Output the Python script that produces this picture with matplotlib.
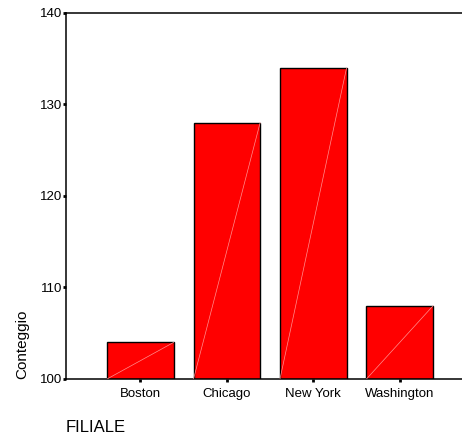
import numpy as np
import matplotlib.pyplot as plt

plt.rcParams['font.family'] = ['Liberation Sans', 'DejaVu Sans']

filiali = ['Boston', 'Chicago', 'New York', 'Washington']
conteggi = [104, 128, 134, 108]
yticks = [100, 110, 120, 130, 140]

fig = plt.figure(figsize=(4.62, 4.44), dpi=100)
ax = fig.add_axes([66/462, 65/444, 1 - 66/462, (379 - 13)/444])

x = np.arange(len(filiali))
w = 0.77
ax.bar(x, np.array(conteggi) - 100, bottom=100, width=w,
       color='#ff0000', edgecolor='black', linewidth=1.0, zorder=2)

# diagonale chiara dentro ogni barra
for xi, v in zip(x, conteggi):
    ax.plot([xi - w/2, xi + w/2], [100, v], color='#ff9090', lw=0.5, zorder=3)

ax.set_ylim(100, 140)
ax.set_xlim(-0.86, 3.72)
ax.set_yticks(yticks)
ax.set_xticks(x)
ax.set_xticklabels(filiali)

for s in ['left', 'top', 'bottom']:
    ax.spines[s].set_linewidth(1.1)
ax.spines['right'].set_visible(False)

ax.tick_params(axis='y', direction='out', length=2.5, width=2, pad=0.5, labelsize=9.5)
ax.tick_params(axis='x', direction='out', length=2.5, width=2, pad=4, labelsize=9.5)

fig.text(22/462, 1 - 344/444, 'Conteggio', rotation=90, fontsize=11,
         ha='center', va='center')
fig.text(66/462, 1 - 427/444, 'FILIALE', fontsize=12, ha='left', va='center')

fig.savefig('out.png', dpi=100)
